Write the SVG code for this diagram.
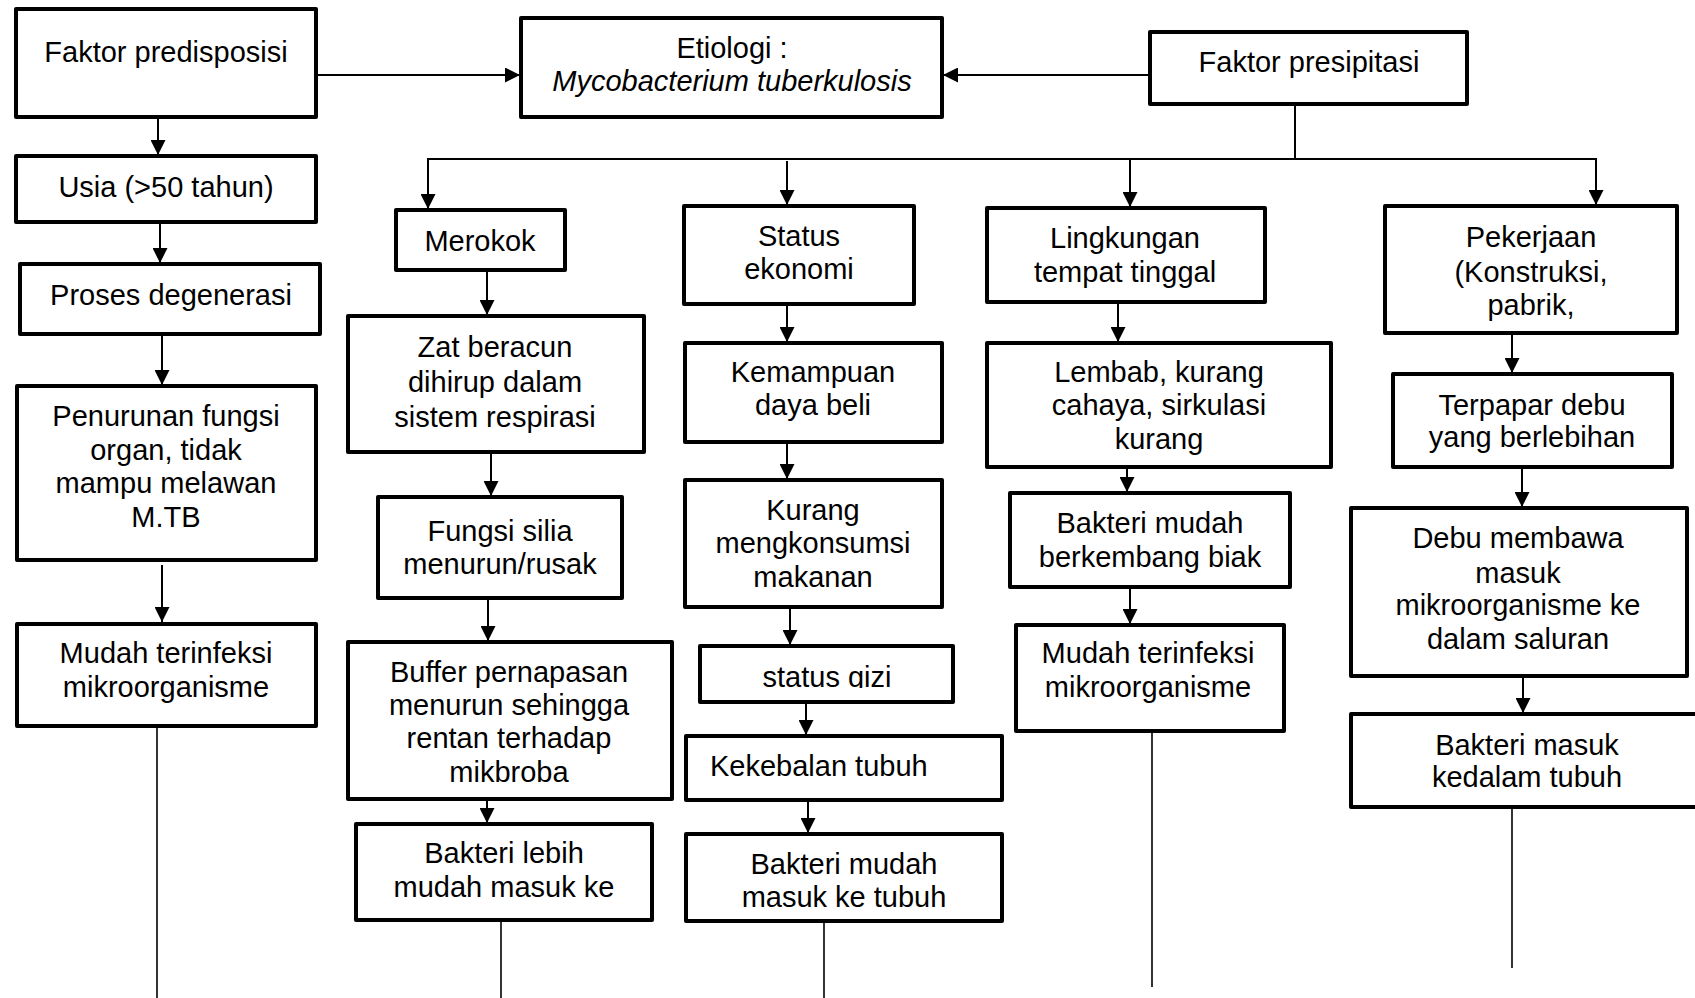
<svg xmlns="http://www.w3.org/2000/svg" width="1695" height="998" viewBox="0 0 1695 998">
<style>
.box{fill:#fff;stroke:#000;stroke-width:4;stroke-linejoin:round}
.t{font-family:"Liberation Sans",Arial,sans-serif;font-size:29px;fill:#000;text-anchor:middle}
.ts{text-anchor:start}
.it{font-style:italic}
.c{stroke:#000;stroke-width:2;fill:none}
.ca{stroke:#000;stroke-width:2;fill:none;marker-end:url(#ah)}
.thin{stroke:#000;stroke-width:1.6;fill:none}
</style>
<defs>
<marker id="ah" viewBox="0 0 10 10" refX="10" refY="5" markerUnits="userSpaceOnUse" markerWidth="15" markerHeight="15" orient="auto">
<path d="M0,0 L10,5 L0,10 z" fill="#000"/>
</marker>
<clipPath id="clipGizi"><rect x="700" y="646" width="253" height="42"/></clipPath>
</defs>
<rect width="1695" height="998" fill="#fff"/>

<g id="connectors">
<line class="ca" x1="318" y1="75" x2="520" y2="75"/>
<line class="ca" x1="1150" y1="75" x2="943" y2="75"/>
<line class="c" x1="1295" y1="104" x2="1295" y2="159"/>
<line class="c" x1="427" y1="159" x2="1597" y2="159"/>
<line class="ca" x1="428" y1="159" x2="428" y2="209"/>
<line class="ca" x1="787" y1="161" x2="787" y2="205"/>
<line class="ca" x1="1130" y1="159" x2="1130" y2="207"/>
<line class="ca" x1="1596" y1="159" x2="1596" y2="205"/>

<line class="ca" x1="158" y1="117" x2="158" y2="155"/>
<line class="ca" x1="160" y1="222" x2="160" y2="263"/>
<line class="ca" x1="162" y1="335" x2="162" y2="385"/>
<line class="ca" x1="162" y1="565" x2="162" y2="622"/>
<line class="thin" x1="157" y1="726" x2="157" y2="998"/>

<line class="ca" x1="487" y1="270" x2="487" y2="315"/>
<line class="ca" x1="491" y1="452" x2="491" y2="496"/>
<line class="ca" x1="488" y1="598" x2="488" y2="641"/>
<line class="ca" x1="487" y1="799" x2="487" y2="823"/>
<line class="thin" x1="501" y1="920" x2="501" y2="998"/>

<line class="ca" x1="787" y1="304" x2="787" y2="342"/>
<line class="ca" x1="787" y1="442" x2="787" y2="479"/>
<line class="ca" x1="790" y1="607" x2="790" y2="645"/>
<line class="ca" x1="806" y1="702" x2="806" y2="735"/>
<line class="ca" x1="808" y1="800" x2="808" y2="833"/>
<line class="thin" x1="824" y1="921" x2="824" y2="998"/>

<line class="ca" x1="1118" y1="302" x2="1118" y2="342"/>
<line class="ca" x1="1127" y1="467" x2="1127" y2="492"/>
<line class="ca" x1="1130" y1="587" x2="1130" y2="624"/>
<line class="thin" x1="1152" y1="731" x2="1152" y2="987"/>

<line class="ca" x1="1512" y1="333" x2="1512" y2="373"/>
<line class="ca" x1="1522" y1="467" x2="1522" y2="507"/>
<line class="ca" x1="1523" y1="676" x2="1523" y2="713"/>
<line class="thin" x1="1512" y1="807" x2="1512" y2="968"/>
</g>

<g id="n_predisposisi"><rect class="box" x="16" y="9" width="300" height="108"/><text class="t" x="166" y="62">Faktor predisposisi</text></g>
<g id="n_etiologi"><rect class="box" x="521" y="18" width="421" height="99"/><text class="t" x="732" y="58">Etiologi :</text><text class="t it" x="732" y="91">Mycobacterium tuberkulosis</text></g>
<g id="n_presipitasi"><rect class="box" x="1150" y="32" width="317" height="72"/><text class="t" x="1309" y="72">Faktor presipitasi</text></g>

<g id="n_usia"><rect class="box" x="16" y="156" width="300" height="66"/><text class="t" x="166" y="197">Usia (&gt;50 tahun)</text></g>
<g id="n_degenerasi"><rect class="box" x="20" y="264" width="300" height="70"/><text class="t" x="171" y="305">Proses degenerasi</text></g>
<g id="n_penurunan"><rect class="box" x="17" y="386" width="299" height="174"/><text class="t" x="166" y="426">Penurunan fungsi</text><text class="t" x="166" y="460">organ, tidak</text><text class="t" x="166" y="493">mampu melawan</text><text class="t" x="166" y="527">M.TB</text></g>
<g id="n_mudah1"><rect class="box" x="17" y="624" width="299" height="102"/><text class="t" x="166" y="663">Mudah terinfeksi</text><text class="t" x="166" y="697">mikroorganisme</text></g>

<g id="n_merokok"><rect class="box" x="396" y="210" width="169" height="60"/><text class="t" x="480" y="251">Merokok</text></g>
<g id="n_zat"><rect class="box" x="348" y="316" width="296" height="136"/><text class="t" x="495" y="357">Zat beracun</text><text class="t" x="495" y="392">dihirup dalam</text><text class="t" x="495" y="427">sistem respirasi</text></g>
<g id="n_silia"><rect class="box" x="378" y="497" width="244" height="101"/><text class="t" x="500" y="541">Fungsi silia</text><text class="t" x="500" y="574">menurun/rusak</text></g>
<g id="n_buffer"><rect class="box" x="348" y="642" width="324" height="157"/><text class="t" x="509" y="682">Buffer pernapasan</text><text class="t" x="509" y="715">menurun sehingga</text><text class="t" x="509" y="748">rentan terhadap</text><text class="t" x="509" y="782">mikbroba</text></g>
<g id="n_lebih"><rect class="box" x="356" y="824" width="296" height="96"/><text class="t" x="504" y="863">Bakteri lebih</text><text class="t" x="504" y="897">mudah masuk ke</text></g>

<g id="n_status"><rect class="box" x="684" y="206" width="230" height="98"/><text class="t" x="799" y="246">Status</text><text class="t" x="799" y="279">ekonomi</text></g>
<g id="n_kemampuan"><rect class="box" x="685" y="343" width="257" height="99"/><text class="t" x="813" y="382">Kemampuan</text><text class="t" x="813" y="415">daya beli</text></g>
<g id="n_kurang"><rect class="box" x="685" y="480" width="257" height="127"/><text class="t" x="813" y="520">Kurang</text><text class="t" x="813" y="553">mengkonsumsi</text><text class="t" x="813" y="587">makanan</text></g>
<g id="n_gizi"><rect class="box" x="700" y="646" width="253" height="56"/><text class="t" x="827" y="687" clip-path="url(#clipGizi)">status gizi</text></g>
<g id="n_kekebalan"><rect class="box" x="686" y="736" width="316" height="64"/><text class="t ts" x="710" y="776">Kekebalan tubuh</text></g>
<g id="n_masuk1"><rect class="box" x="686" y="834" width="316" height="87"/><text class="t" x="844" y="874">Bakteri mudah</text><text class="t" x="844" y="907">masuk ke tubuh</text></g>

<g id="n_lingkungan"><rect class="box" x="987" y="208" width="278" height="94"/><text class="t" x="1125" y="248">Lingkungan</text><text class="t" x="1125" y="282">tempat tinggal</text></g>
<g id="n_lembab"><rect class="box" x="987" y="343" width="344" height="124"/><text class="t" x="1159" y="382">Lembab, kurang</text><text class="t" x="1159" y="415">cahaya, sirkulasi</text><text class="t" x="1159" y="449">kurang</text></g>
<g id="n_biak"><rect class="box" x="1010" y="493" width="280" height="94"/><text class="t" x="1150" y="533">Bakteri mudah</text><text class="t" x="1150" y="567">berkembang biak</text></g>
<g id="n_mudah2"><rect class="box" x="1016" y="625" width="268" height="106"/><text class="t" x="1148" y="663">Mudah terinfeksi</text><text class="t" x="1148" y="697">mikroorganisme</text></g>

<g id="n_pekerjaan"><rect class="box" x="1385" y="206" width="292" height="127"/><text class="t" x="1531" y="247">Pekerjaan</text><text class="t" x="1531" y="282">(Konstruksi,</text><text class="t" x="1531" y="315">pabrik,</text></g>
<g id="n_terpapar"><rect class="box" x="1393" y="374" width="279" height="93"/><text class="t" x="1532" y="415">Terpapar debu</text><text class="t" x="1532" y="447">yang berlebihan</text></g>
<g id="n_debu"><rect class="box" x="1351" y="508" width="336" height="168"/><text class="t" x="1518" y="548">Debu membawa</text><text class="t" x="1518" y="583">masuk</text><text class="t" x="1518" y="615">mikroorganisme ke</text><text class="t" x="1518" y="649">dalam saluran</text></g>
<g id="n_masuk2"><rect class="box" x="1351" y="714" width="360" height="93"/><text class="t" x="1527" y="755">Bakteri masuk</text><text class="t" x="1527" y="787">kedalam tubuh</text></g>
</svg>
